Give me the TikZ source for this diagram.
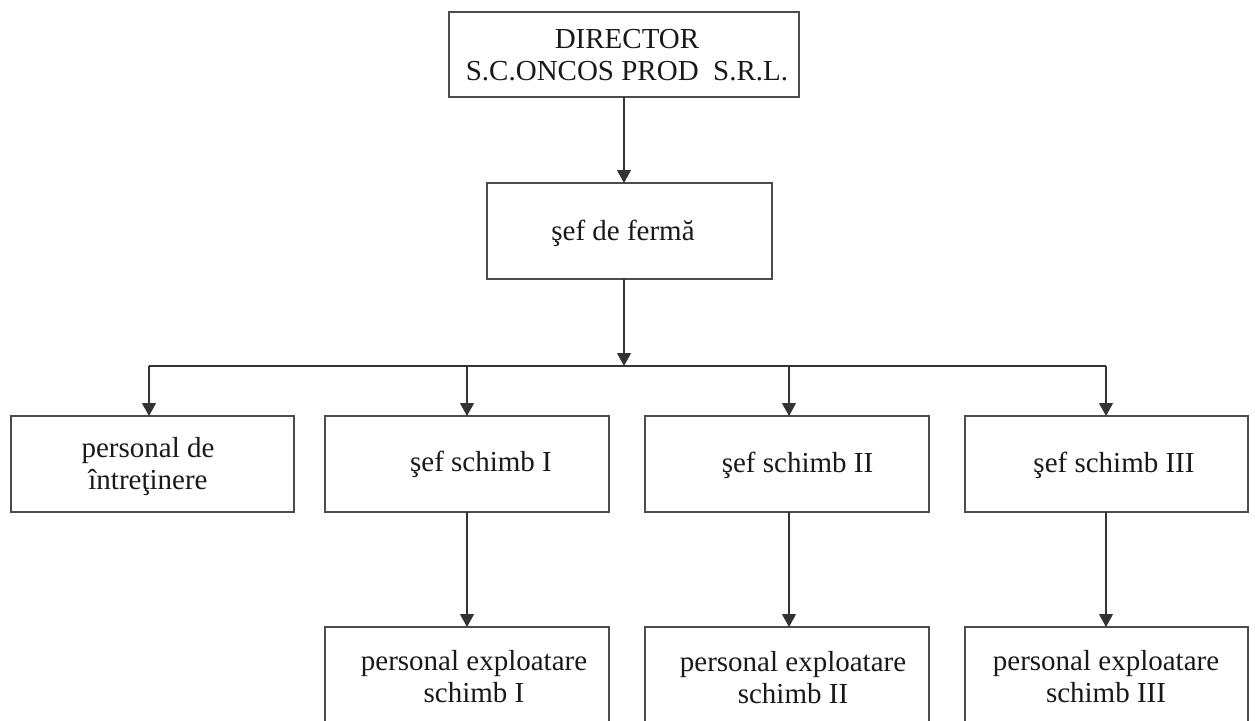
\documentclass[tikz,border=0pt]{standalone}
\usepackage{fontspec}
\setmainfont{Liberation Serif}
\usetikzlibrary{arrows.meta}
\begin{document}
\begin{tikzpicture}[x=1pt,y=-1pt,
  box/.style={draw=black!70,line width=1.1pt,inner sep=0pt,outer sep=0pt},
  txt/.style={align=center,inner sep=0pt,font=\fontsize{29}{32}\selectfont,text=black!90},
  ln/.style={draw=black!80,line width=1.1pt},
  arr/.style={ln,-{Triangle[length=13pt,width=14pt]}}]
\useasboundingbox (0,0) rectangle (1255,720);
\clip (0,0) rectangle (1255,720);
% boxes
\node[box,minimum width=350pt,minimum height=85pt] (dir) at (624,54.5) {};
\node[box,minimum width=285pt,minimum height=96pt] (ferma) at (629.5,231) {};
\node[box,minimum width=283pt,minimum height=96pt] (pi) at (152.5,464) {};
\node[box,minimum width=284pt,minimum height=96pt] (s1) at (467,464) {};
\node[box,minimum width=284pt,minimum height=96pt] (s2) at (787,464) {};
\node[box,minimum width=283pt,minimum height=96pt] (s3) at (1106.5,464) {};
\node[box,minimum width=284pt,minimum height=133pt] (e1) at (467,693.5) {};
\node[box,minimum width=284pt,minimum height=133pt] (e2) at (787,693.5) {};
\node[box,minimum width=283pt,minimum height=133pt] (e3) at (1106.5,693.5) {};
% texts
\node[txt] (tdir) at (627,55.5) {DIRECTOR\\S.C.ONCOS PROD\ \ S.R.L.};
\node[txt] (tferma) at (623,233) {şef de fermă};
\node[txt] (tpi) at (148,467) {personal de\\întreţinere};
\node[txt] (ts1) at (481,464) {şef schimb I};
\node[txt] (ts2) at (797.5,465) {şef schimb II};
\node[txt] (ts3) at (1114,465) {şef schimb III};
\node[txt] (te1) at (474,677) {personal exploatare\\schimb I};
\node[txt] (te2) at (793,678) {personal exploatare\\schimb II};
\node[txt] (te3) at (1106,677) {personal exploatare\\schimb III};
% connectors
\coordinate (bus) at (624,366);
\coordinate (busL) at (149,366);
\coordinate (busR) at (1106,366);
\coordinate (b2) at (467,366);
\coordinate (b3) at (789,366);
\draw[arr] (dir.south) -- (dir.south |- ferma.north);
\draw[arr] (dir.south |- ferma.south) -- (bus);
\draw[ln] (busL) -- (busR);
\draw[arr] (busL) -- (busL |- pi.north);
\draw[arr] (b2) -- (s1.north);
\draw[arr] (b3) -- (b3 |- s2.north);
\draw[arr] (busR) -- (busR |- s3.north);
\draw[arr] (s1.south) -- (e1.north);
\draw[arr] (b3 |- s2.south) -- (b3 |- e2.north);
\draw[arr] (busR |- s3.south) -- (busR |- e3.north);
\end{tikzpicture}
\end{document}
